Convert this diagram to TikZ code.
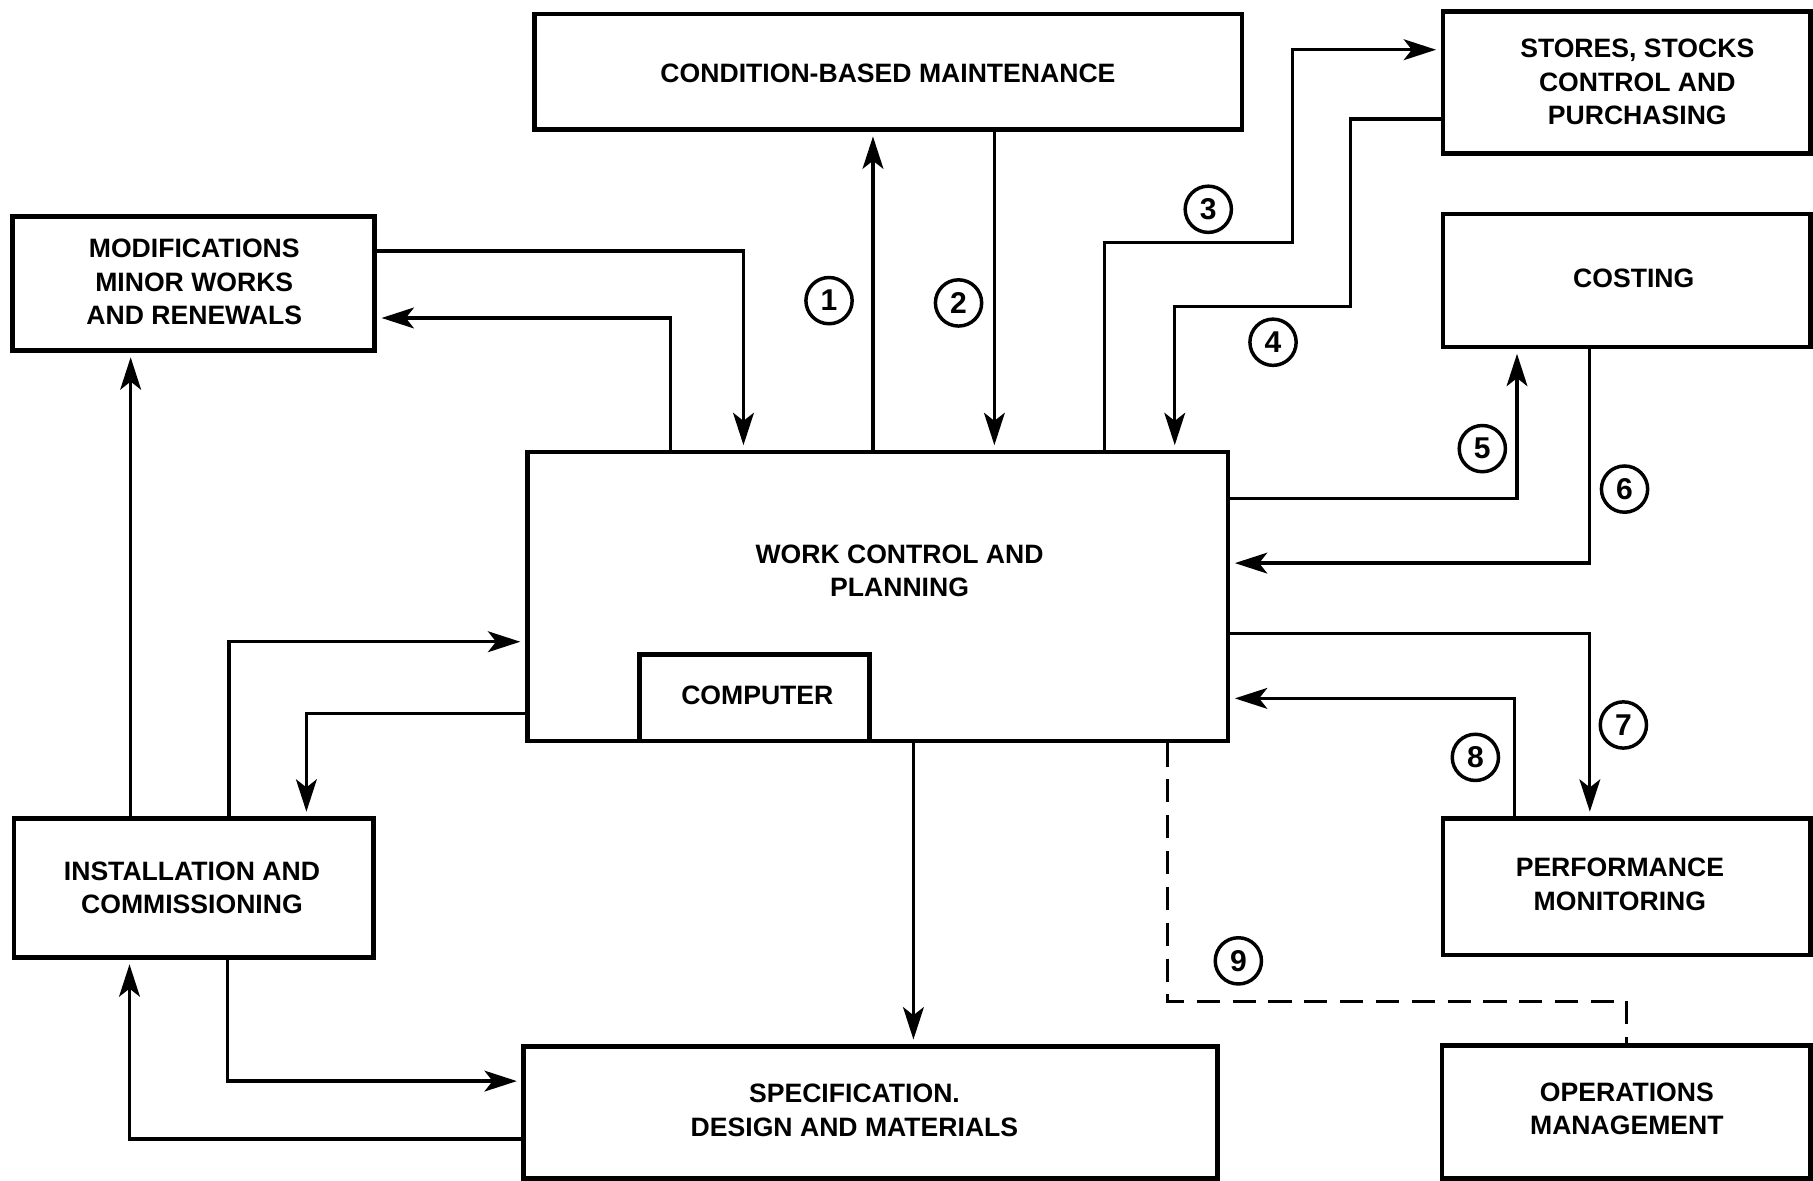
\documentclass[tikz,border=0pt]{standalone}
\usepackage{fontspec}
\setmainfont{Liberation Sans}
\usetikzlibrary{arrows.meta}
\newcommand\diagfont{\bfseries\fontsize{23}{29}\selectfont}
\newcommand\circfont{\bfseries\fontsize{26}{26}\selectfont}
\begin{document}
\begin{tikzpicture}[x=1pt,y=-1pt,
  box/.style={draw,line width=4pt,rectangle,inner sep=0pt},
  lbl/.style={font=\diagfont,align=center,inner sep=0pt},
  flow/.style={line width=2.8pt,shorten >=4pt,-{Stealth[length=28pt,width=18pt,inset=7pt]}},
  linkdash/.style={line width=2.8pt,dash pattern=on 20pt off 11pt},
  num/.style={draw,circle,line width=3pt,minimum size=40pt,inner sep=0pt,font=\circfont},
]
\useasboundingbox (0,0) rectangle (1568,1021);

% blocks
\node[box,minimum width=612pt,minimum height=100pt] (cbm) at (768,62) {};
\node[lbl] (cbmt) at (768,63) {CONDITION-BASED MAINTENANCE};

\node[box,minimum width=318pt,minimum height=123pt] (stores) at (1407,71.5) {};
\node[lbl] (storest) at (1416,71) {STORES, STOCKS\\CONTROL AND\\PURCHASING};

\node[box,minimum width=313pt,minimum height=116pt] (mod) at (167.5,245) {};
\node[lbl] (modt) at (168,244) {MODIFICATIONS\\MINOR WORKS\\AND RENEWALS};

\node[box,minimum width=318pt,minimum height=115pt] (costing) at (1407,242.5) {};
\node[lbl] (costingt) at (1413,241) {COSTING};

\node[box,minimum width=606pt,minimum height=250pt] (wcp) at (759,516) {};
\node[lbl] (wcpt) at (778,493.5) {WORK CONTROL AND\\PLANNING};

\node[box,minimum width=199pt,minimum height=75pt] (comp) at (652.5,603.5) {};
\node[lbl] (compt) at (655,601) {COMPUTER};

\node[box,minimum width=311pt,minimum height=120pt] (inst) at (167.5,768) {};
\node[lbl] (instt) at (166,768) {INSTALLATION AND\\COMMISSIONING};

\node[box,minimum width=318pt,minimum height=118pt] (perf) at (1407,767) {};
\node[lbl] (perft) at (1401,765) {PERFORMANCE\\MONITORING};

\node[box,minimum width=600pt,minimum height=114pt] (spec) at (753,962) {};
\node[lbl] (spect) at (739,960.5) {SPECIFICATION.\\DESIGN AND MATERIALS};

\node[box,minimum width=319pt,minimum height=115pt] (ops) at (1406.5,961.5) {};
\node[lbl] (opst) at (1407,959) {OPERATIONS\\MANAGEMENT};

% flows around the work control block
\draw[flow] (mod.east |- 0,217) -| (wcp.north -| 643,0);
\draw[flow] (wcp.north -| 580,0) |- (mod.east |- 0,275);
\draw[flow] (wcp.north -| 755,0) -- (cbm.south -| 755,0);
\draw[flow] (cbm.south -| 860,0) -- (wcp.north -| 860,0);
\draw[flow] (wcp.north -| 955,0) |- (1118,210) |- (stores.west |- 0,43);
\draw[flow] (stores.west |- 0,103) -| (1168,265) -| (wcp.north -| 1016,0);
\draw[flow] (wcp.east |- 0,431) -| (costing.south -| 1312,0);
\draw[flow] (costing.south -| 1375,0) |- (wcp.east |- 0,487);
\draw[flow] (wcp.east |- 0,548) -| (perf.north -| 1375,0);
\draw[flow] (perf.north -| 1310,0) |- (wcp.east |- 0,604);
\draw[linkdash] (wcp.south -| 1010,0) |- (1407,866) -- (ops.north -| 1407,0);

\draw[flow] (wcp.west |- 0,617) -| (inst.north -| 265,0);
\draw[flow] (inst.north -| 198,0) |- (wcp.west |- 0,555);
\draw[flow] (inst.north -| 113,0) -- (mod.south -| 113,0);
\draw[flow] (wcp.south -| 790,0) -- (spec.north -| 790,0);
\draw[flow] (inst.south -| 197,0) |- (spec.west |- 0,935);
\draw[flow] (spec.west |- 0,985) -| (inst.south -| 112,0);

% numbered flow labels
\node[num] (n1) at (717,260) {1};
\node[num] (n2) at (829,262) {2};
\node[num] (n3) at (1045,181) {3};
\node[num] (n4) at (1101,296) {4};
\node[num] (n5) at (1282,388) {5};
\node[num] (n6) at (1405,423) {6};
\node[num] (n7) at (1404,627) {7};
\node[num] (n8) at (1276,655) {8};
\node[num] (n9) at (1071,831) {9};
\end{tikzpicture}
\end{document}
